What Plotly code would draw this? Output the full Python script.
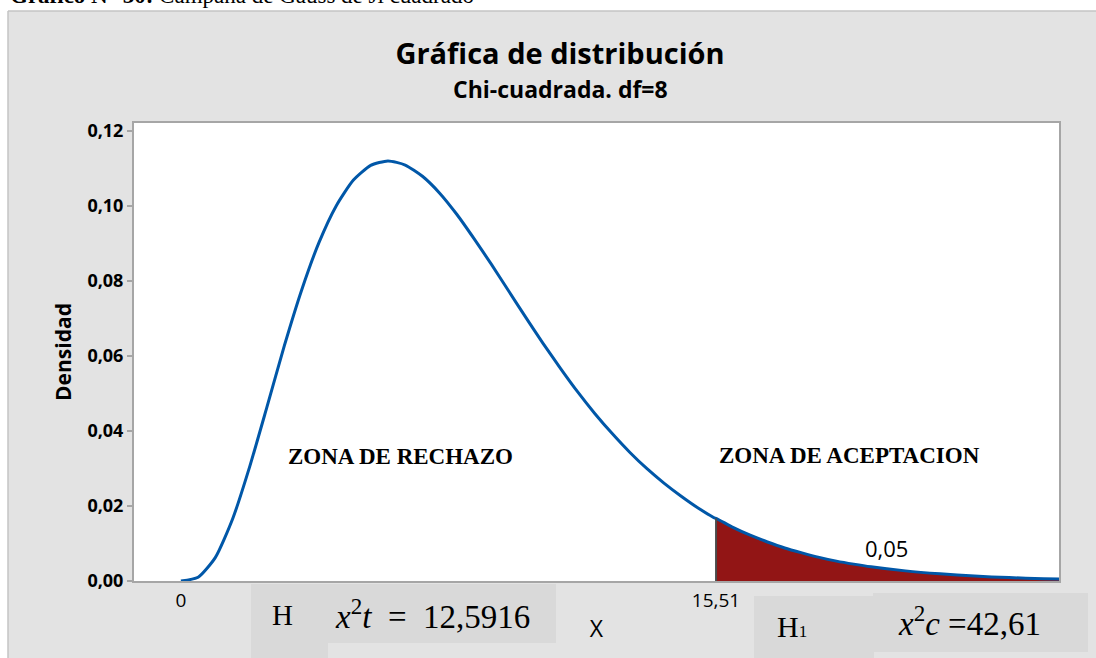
import plotly.graph_objects as go

# ---- data ----
x_vals = [0, 0.5, 1, 1.5, 2, 2.5, 3, 3.5, 4, 4.5, 5, 5.5, 6, 6.5, 7, 7.5, 8, 8.5,
          9, 9.5, 10, 10.5, 11, 11.5, 12, 12.5, 13, 13.5, 14, 14.5, 15, 15.5, 15.51,
          16, 16.5, 17, 17.5, 18, 18.5, 19, 19.5, 20, 21, 22, 23, 24, 25, 25.5]
density = [0.0, 0.0010, 0.0063, 0.0166, 0.0307, 0.0466, 0.0628, 0.0776, 0.0902, 0.1000,
           0.1069, 0.1108, 0.1120, 0.1109, 0.1079, 0.1034, 0.0977, 0.0912, 0.0844, 0.0773,
           0.0702, 0.0633, 0.0567, 0.0504, 0.0446, 0.0393, 0.0344, 0.0300, 0.0261, 0.0226,
           0.0194, 0.0167, 0.0167, 0.0143, 0.0122, 0.0104, 0.0088, 0.0075, 0.0063, 0.0053,
           0.0045, 0.0038, 0.0027, 0.0019, 0.0013, 0.0009, 0.0006, 0.0005]
critical_x = 15.51
alpha_text = "0,05"
y_ticks = [0.00, 0.02, 0.04, 0.06, 0.08, 0.10, 0.12]
x_ticks = [0, critical_x]
x_ticktext = ["0", "15,51"]

W, H = 1096, 658
L, R, T, B = 134, 37, 123, 77


def px(xp):
    return (xp - L) / (W - L - R)


def py(yp):
    return (H - B - yp) / (H - T - B)


tail_x = [x for x in x_vals if x >= critical_x]
tail_y = [d for x, d in zip(x_vals, density) if x >= critical_x]
crit_y = density[x_vals.index(critical_x)]

fig = go.Figure()
fig.add_trace(go.Scatter(x=tail_x, y=tail_y, mode="lines", fill="tozeroy",
                         fillcolor="#921515", line=dict(width=0, color="#921515", shape="spline"),
                         hoverinfo="skip", showlegend=False))
fig.add_trace(go.Scatter(x=x_vals, y=density, mode="lines",
                         line=dict(color="#0057A8", width=3, shape="spline", smoothing=0.6),
                         showlegend=False))

shapes = [
    dict(type="line", xref="x", yref="y", x0=critical_x, x1=critical_x, y0=0, y1=crit_y,
         line=dict(color="#4a4a4a", width=2), layer="above"),
    # white page strip at top and left
    dict(type="rect", xref="paper", yref="paper", x0=px(-5), x1=px(W + 5), y0=py(11), y1=py(-5),
         fillcolor="white", line=dict(width=0), layer="above"),
    dict(type="rect", xref="paper", yref="paper", x0=px(-5), x1=px(8), y0=py(H + 5), y1=py(-5),
         fillcolor="white", line=dict(width=0), layer="above"),
    dict(type="line", xref="paper", yref="paper", x0=px(8), x1=px(W + 5), y0=py(11), y1=py(11),
         line=dict(color="#c4c4c4", width=1.5), layer="above"),
    dict(type="line", xref="paper", yref="paper", x0=px(8), x1=px(8), y0=py(11), y1=py(H + 5),
         line=dict(color="#c4c4c4", width=1.5), layer="above"),
    # text boxes below the chart
    dict(type="rect", xref="paper", yref="paper", x0=px(251), x1=px(556), y0=py(643), y1=py(584),
         fillcolor="#d9d9d9", line=dict(width=0), layer="above"),
    dict(type="rect", xref="paper", yref="paper", x0=px(251), x1=px(328), y0=py(H + 5), y1=py(584),
         fillcolor="#d9d9d9", line=dict(width=0), layer="above"),
    dict(type="rect", xref="paper", yref="paper", x0=px(754), x1=px(874), y0=py(H + 5), y1=py(596),
         fillcolor="#d9d9d9", line=dict(width=0), layer="above"),
    dict(type="rect", xref="paper", yref="paper", x0=px(873), x1=px(1088), y0=py(652), y1=py(593),
         fillcolor="#d9d9d9", line=dict(width=0), layer="above"),
]

serif = "Liberation Serif"
sans = "Open Sans"


def note(text, x, y, family, size, xanchor="center"):
    return dict(text=text, x=px(x), y=py(y), xref="paper", yref="paper",
                xanchor=xanchor, yanchor="middle", showarrow=False,
                font=dict(family=family, size=size, color="black"))


annotations = [
    note("<b>Gráfico N° 30:</b> Campaña de Gauss de Ji cuadrado", 8, -4, serif, 23, "left"),
    note("<b>Chi-cuadrada. df=8</b>", 560, 89, sans, 23),
    note("<b>ZONA DE RECHAZO</b>", 400, 456, serif, 23),
    note("<b>ZONA DE ACEPTACION</b>", 849, 455, serif, 23),
    note(alpha_text, 886, 548, sans, 22),
    note("H", 282, 615, serif, 29),
    note("<i>x</i><sup>2</sup><i>t</i>  =  12,5916", 432, 614, serif, 33),
    note("H<span style='font-size:17px'>1</span>", 792, 626, serif, 30),
    note("<i>x</i><sup>2</sup><i>c</i> =42,61", 969, 621, serif, 33),
]

fig.update_layout(
    width=W, height=H, autosize=False,
    margin=dict(l=L, r=R, t=T, b=B, autoexpand=False),
    paper_bgcolor="#e3e3e3", plot_bgcolor="white",
    separators=",.",
    title=dict(text="<b>Gráfica de distribución</b>", x=px(560), xref="paper",
               y=1 - 54 / H, yref="container", xanchor="center", yanchor="middle",
               font=dict(family=sans, size=29, color="black")),
    shapes=shapes, annotations=annotations, showlegend=False,
)
fig.update_xaxes(range=[-1.36, 25.45], tickvals=x_ticks, ticktext=x_ticktext,
                 ticks="outside", ticklen=1, tickcolor="rgba(0,0,0,0)",
                 tickfont=dict(family=sans, size=19, color="black"),
                 showline=True, linecolor="#a6a6a6", linewidth=2, mirror=True,
                 showgrid=False, zeroline=False, automargin=False,
                 title=dict(text="X", font=dict(family=sans, size=23, color="black"), standoff=9))
fig.update_yaxes(range=[0, 0.1221], tickvals=y_ticks, tickformat=".2f",
                 ticks="outside", ticklen=5, tickcolor="#a6a6a6", tickwidth=1.5,
                 tickfont=dict(family=sans, size=18, color="black", weight="bold"),
                 showline=True, linecolor="#a6a6a6", linewidth=2, mirror=True,
                 showgrid=False, zeroline=False, automargin=False,
                 title=dict(text="<b>Densidad</b>", font=dict(family=sans, size=21, color="black"),
                            standoff=10))

fig.write_html("out.html", config={"displayModeBar": False},
               post_script="document.body.style.margin='0';document.body.style.padding='0';")
